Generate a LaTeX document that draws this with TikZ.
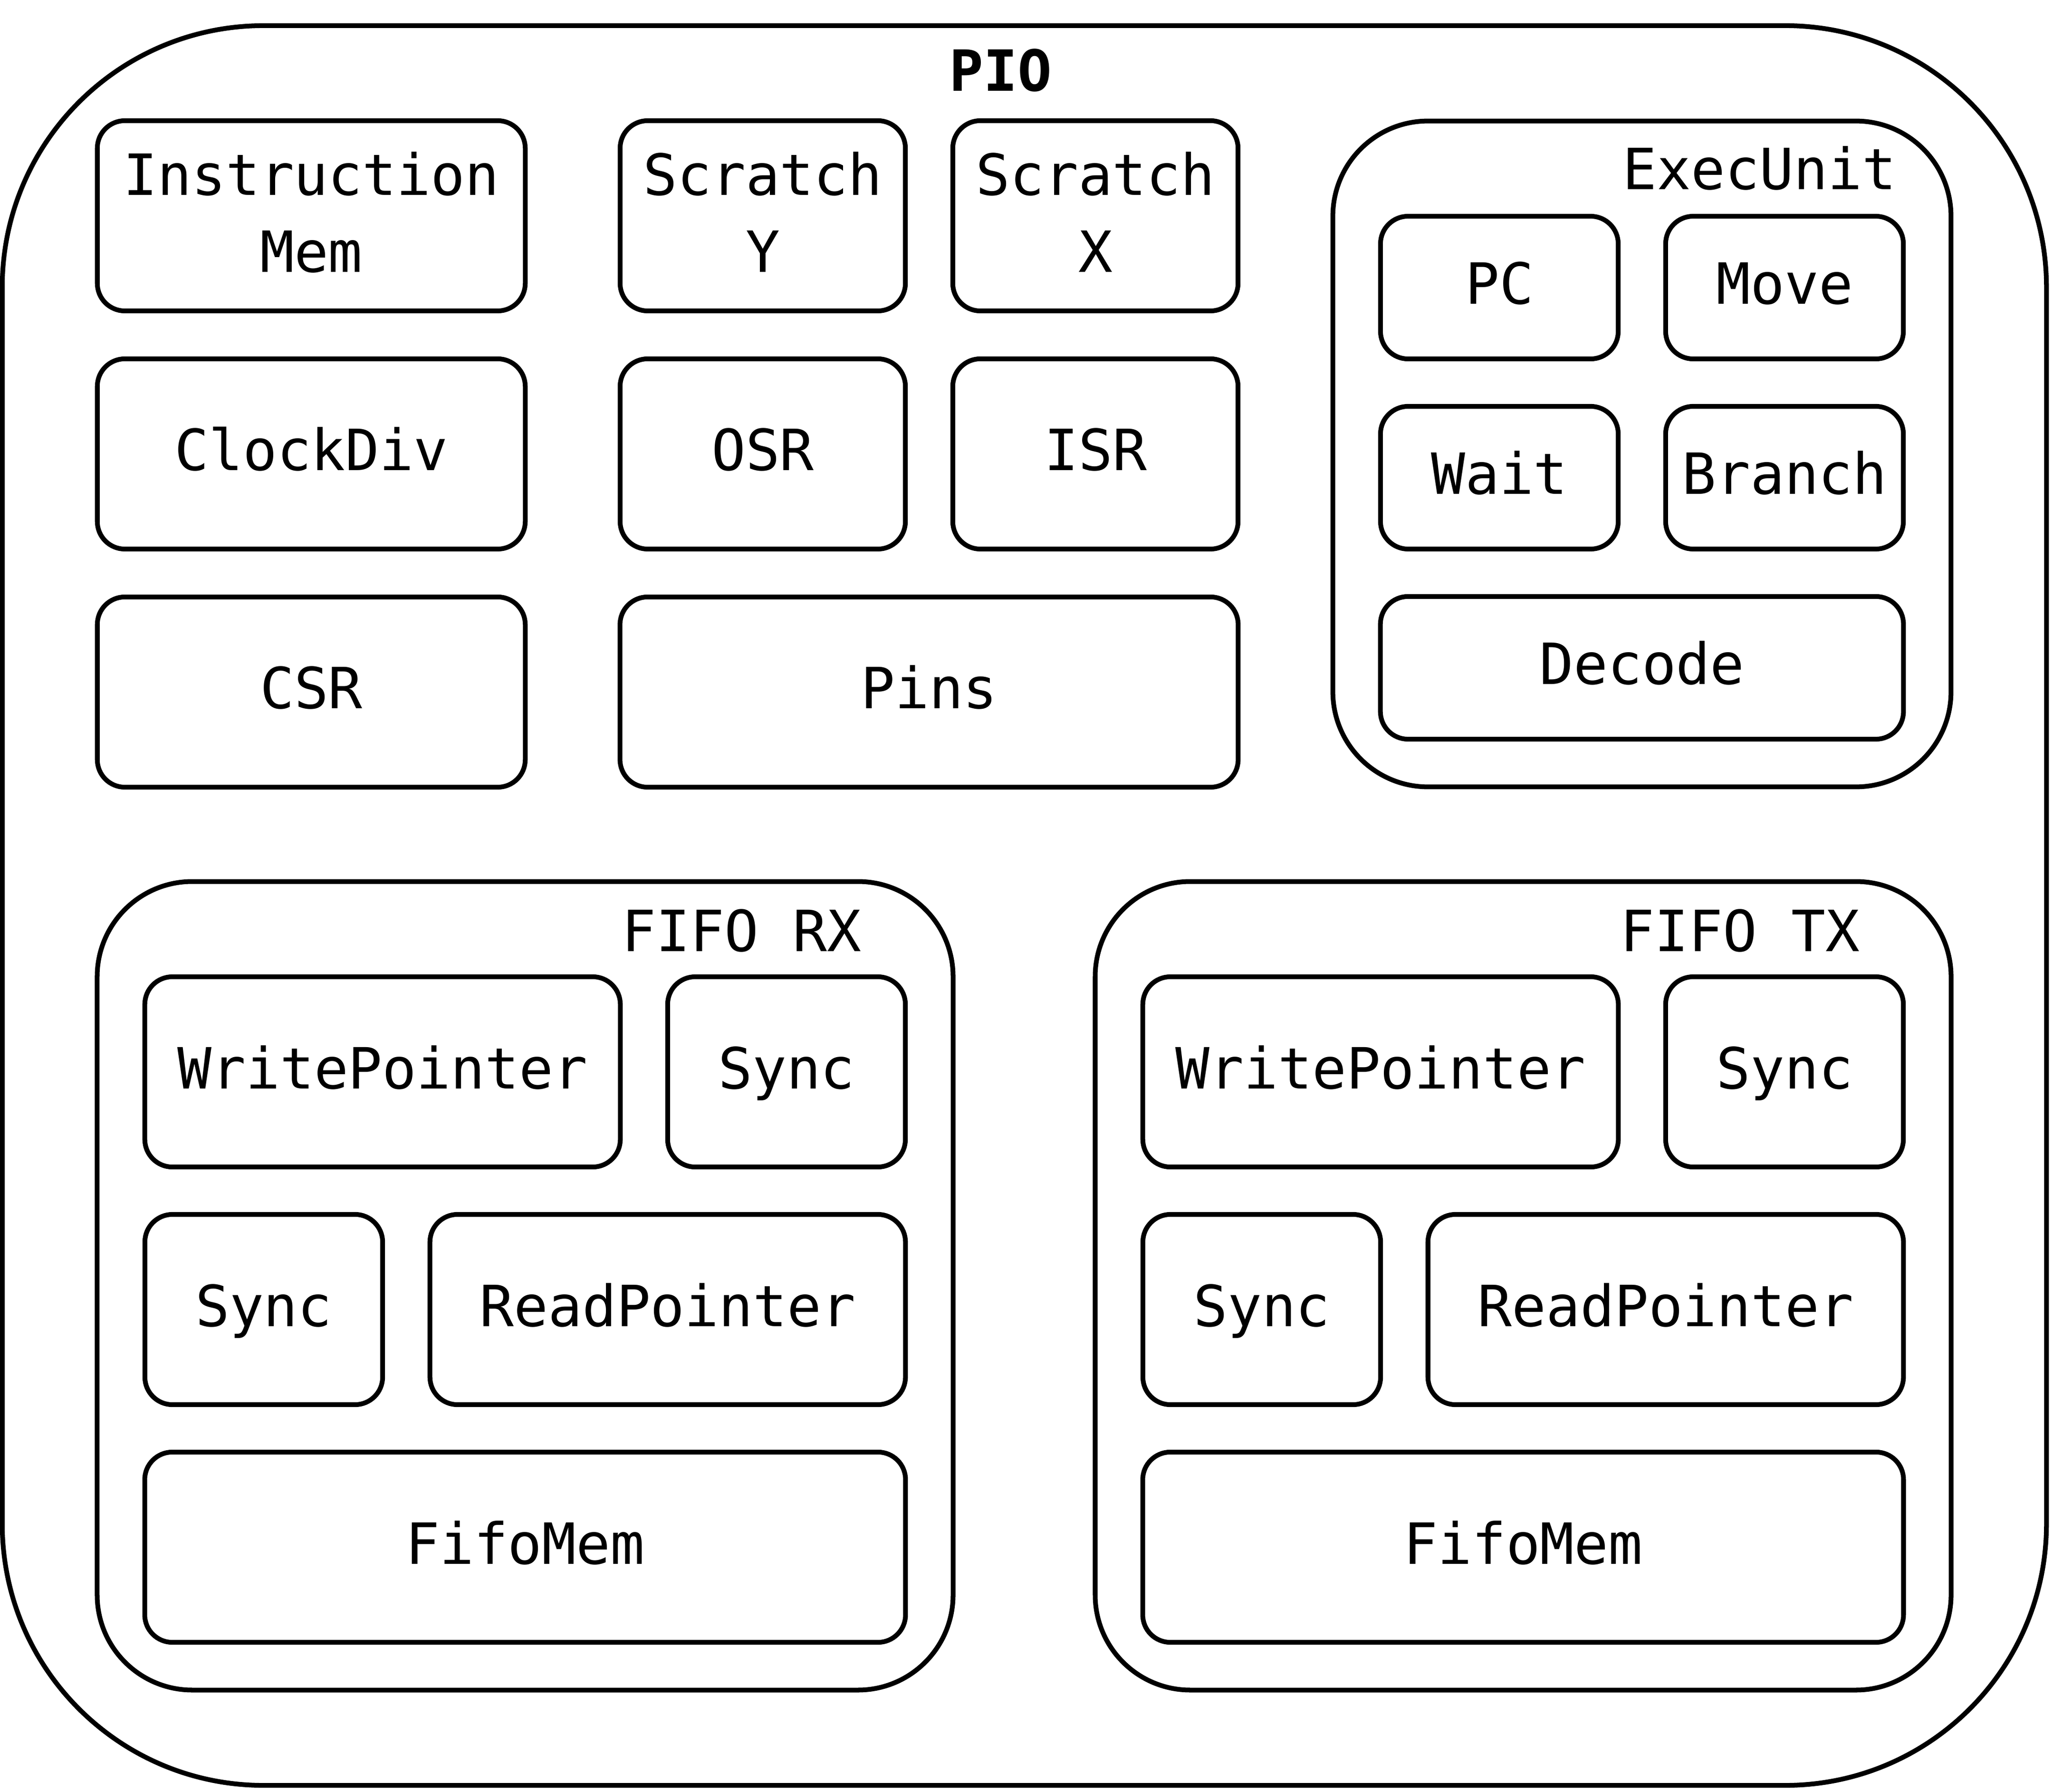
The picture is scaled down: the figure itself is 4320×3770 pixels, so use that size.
\documentclass[tikz,border=0pt]{standalone}
\usepackage{fontspec}
\setmainfont{DejaVu Sans Mono}
\begin{document}
\begin{tikzpicture}[x=0.01cm,y=-0.01cm,
  fnt/.style={font=\fontsize{34}{46}\selectfont},
  blk/.style={draw, line width=2.85pt, rounded corners=0.58cm, inner sep=0pt, fnt, text height=27.2pt, text depth=7.3pt},
  blk2/.style={draw, line width=2.85pt, rounded corners=0.58cm, inner sep=0pt, fnt, align=center, text depth=4.5pt},
  grp/.style={draw, line width=2.85pt, rounded corners=2cm, inner sep=0pt},
  lbl/.style={anchor=base west, inner sep=0pt, fnt}]
\useasboundingbox (0,0) rectangle (4320,3770);
% outer
\node[draw, line width=2.85pt, rounded corners=5.5cm, inner sep=0pt, minimum width=42.99cm, minimum height=37cm] (pio) at (2155.5,1905) {};
\node[anchor=base, inner sep=0pt, font=\fontsize{34}{46}\selectfont\bfseries] (piol) at (2105,192) {PIO};
% left columns
\node[blk2, minimum width=9cm, minimum height=4cm] (imem) at (655,454) {Instruction\\Mem};
\node[blk, minimum width=9cm, minimum height=4cm] (clk) at (655,955) {ClockDiv};
\node[blk, minimum width=9cm, minimum height=4cm] (csr) at (655,1456) {CSR};
\node[blk2, minimum width=6cm, minimum height=4cm] (scry) at (1605,454) {Scratch\\Y};
\node[blk2, minimum width=6cm, minimum height=4cm] (scrx) at (2305,454) {Scratch\\X};
\node[blk, minimum width=6cm, minimum height=4cm] (osr) at (1605,955) {OSR};
\node[blk, minimum width=6cm, minimum height=4cm] (isr) at (2305,955) {ISR};
\node[blk, minimum width=13cm, minimum height=4cm] (pins) at (1955,1456) {Pins};
% exec unit
\node[grp, minimum width=13cm, minimum height=14cm] (exec) at (3455,955) {};
\node[lbl] (execl) at (3414,399) {ExecUnit};
\node[blk, minimum width=5cm, minimum height=3cm] (pc) at (3155,605) {PC};
\node[blk, minimum width=5cm, minimum height=3cm] (move) at (3755,605) {Move};
\node[blk, minimum width=5cm, minimum height=3cm] (wait) at (3155,1005) {Wait};
\node[blk, minimum width=5cm, minimum height=3cm] (branch) at (3755,1005) {Branch};
\node[blk, minimum width=11cm, minimum height=3cm] (decode) at (3455,1405) {Decode};
% FIFO RX
\node[grp, minimum width=18cm, minimum height=17cm] (rx) at (1105,2705) {};
\node[lbl] (rxl) at (1308,2001) {FIFO RX};
\node[blk, minimum width=10cm, minimum height=4cm] (rxwp) at (805,2255) {WritePointer};
\node[blk, minimum width=5cm, minimum height=4cm] (rxsa) at (1655,2255) {Sync};
\node[blk, minimum width=5cm, minimum height=4cm] (rxsb) at (555,2755) {Sync};
\node[blk, minimum width=10cm, minimum height=4cm] (rxrp) at (1405,2755) {ReadPointer};
\node[blk, minimum width=16cm, minimum height=4cm] (rxmem) at (1105,3255) {FifoMem};
% FIFO TX
\node[grp, minimum width=18cm, minimum height=17cm] (tx) at (3205,2705) {};
\node[lbl] (txl) at (3409,2001) {FIFO TX};
\node[blk, minimum width=10cm, minimum height=4cm] (txwp) at (2905,2255) {WritePointer};
\node[blk, minimum width=5cm, minimum height=4cm] (txsa) at (3755,2255) {Sync};
\node[blk, minimum width=5cm, minimum height=4cm] (txsb) at (2655,2755) {Sync};
\node[blk, minimum width=10cm, minimum height=4cm] (txrp) at (3505,2755) {ReadPointer};
\node[blk, minimum width=16cm, minimum height=4cm] (txmem) at (3205,3255) {FifoMem};
\end{tikzpicture}
\end{document}
